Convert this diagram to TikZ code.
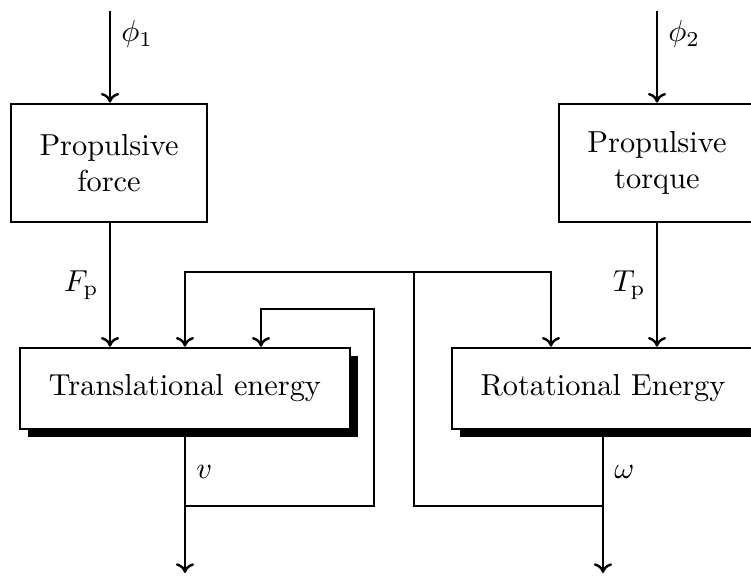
\documentclass[tikz,border=0pt]{standalone}
\usetikzlibrary{arrows.meta,shadows}

\begin{document}
\begin{tikzpicture}[>={To[width=6pt,length=3.2pt]},thick,
  block/.style={draw,fill=white,inner xsep=9.5pt,minimum height=0.94cm,
    drop shadow={shadow xshift=2.6pt,shadow yshift=-2.6pt,fill=black,opacity=1}},
  propbox/.style={draw,align=center,minimum width=2.27cm,minimum height=1.37cm}]
\useasboundingbox (0,0) rectangle (8.692,-6.690);

% blocks
\node[propbox] (force)  at (1.262,-1.887) {Propulsive\\force};
\node[propbox] (torque) at (7.604,-1.887) {Propulsive\\torque};
\node[block] (trans) at (2.141,-4.497) {Translational energy};
\node[block] (rot)   at (6.979,-4.497) {Rotational Energy};

\coordinate (in1) at (1.273,-0.127);
\coordinate (in2) at (7.604,-0.127);
\coordinate (vsplit) at (2.141,-5.856);
\coordinate (vend)   at (2.141,-6.632);
\coordinate (vloop)  at (4.329,-3.576);
\coordinate (vfb)    at (3.021,-3.576);
\coordinate (wsplit) at (6.979,-5.856);
\coordinate (wend)   at (6.979,-6.632);
\coordinate (wtop)   at (4.792,-3.148);
\coordinate (wfb)    at (6.377,-3.148);

% inputs
\draw[->] (in1) -- node[right,pos=0.25] {$\phi_1$} (in1 |- force.north);
\draw[->] (in2) -- node[right,pos=0.25] {$\phi_2$} (torque);
\draw[->] (in1 |- force.south) -- node[left] {$F_{\mathrm{p}}$} (in1 |- trans.north);
\draw[->] (torque) -- node[left] {$T_{\mathrm{p}}$} (torque |- rot.north);

% outputs
\draw (trans) -- node[right,pos=0.55] {$v$} (vsplit);
\draw[->] (vsplit) -- (vend);
\draw (rot) -- node[right,pos=0.55] {$\omega$} (wsplit);
\draw[->] (wsplit) -- (wend);

% feedback
\draw[->] (vsplit) -| (vloop) -- (vfb) -- (vfb |- trans.north);
\draw (wsplit) -| (wtop);
\draw[->] (wtop) -| (trans);
\draw[->] (wtop) -- (wfb) -- (wfb |- rot.north);

\end{tikzpicture}
\end{document}
